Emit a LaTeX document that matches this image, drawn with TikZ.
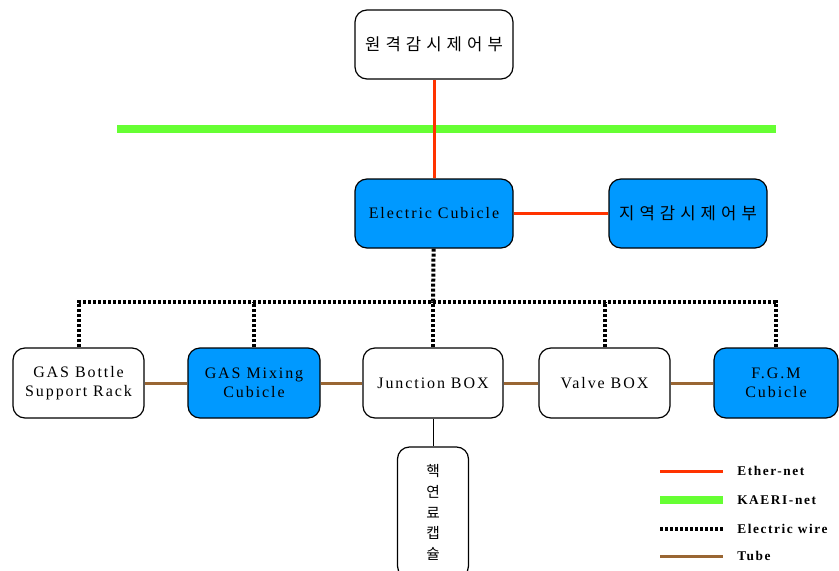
\documentclass[tikz,border=0pt]{standalone}
\usepackage{fontspec}
\setmainfont{Liberation Serif}[LetterSpace=12]
\newfontfamily\kr{Noto Sans CJK KR}[LetterSpace=8]
\definecolor{cubeblue}{RGB}{0,153,255}
\definecolor{etherred}{RGB}{255,51,0}
\definecolor{kaerigreen}{RGB}{102,255,51}
\definecolor{tubebrown}{RGB}{153,102,51}
\tikzset{
    box/.style={draw, line width=0.9pt, rounded corners=9pt, fill=white, align=center,
        minimum height=52.5pt, inner sep=2pt, font=\fontsize{12}{14}\selectfont},
    bluebox/.style={box, fill=cubeblue},
    ether/.style={draw=etherred, line width=2.25pt},
    kaeri/.style={draw=kaerigreen, line width=6pt},
    wire/.style={draw=black, line width=3pt, dash pattern=on 2.25pt off 1.5pt},
    tube/.style={draw=tubebrown, line width=2.25pt},
    legend/.style={right, inner sep=0pt, font=\bfseries\fontsize{10}{12}\selectfont}
}
\begin{document}
\begin{tikzpicture}[x=0.75pt,y=-0.75pt]
    \useasboundingbox (0,0) rectangle (839,571);

    % control level
    \node[box, minimum width=118.5pt, minimum height=51.75pt] (remote) at (434,44.5) {\kr\fontsize{12.5}{14}\selectfont 원 격 감 시 제 어 부};
    \node[bluebox, minimum width=118.5pt, minimum height=51.75pt] (elec) at (434,213.5) {Electric Cubicle};
    \node[bluebox, minimum width=118.5pt, minimum height=51.75pt] (local) at (688,213.5) {\kr\fontsize{12.5}{14}\selectfont 지 역 감 시 제 어 부};

    \draw[kaeri] (117,129) coordinate (netW) -- (776,129) coordinate (netE);
    \draw[ether] (remote) -- (elec);
    \draw[ether] (elec) -- (local);

    % field level
    \node[box, minimum width=98.25pt] (bottle) at (78.5,383) {GAS Bottle\\Support Rack};
    \node[bluebox, minimum width=99pt] (mixing) at (254,383) {GAS Mixing\\Cubicle};
    \node[box, minimum width=105pt] (junction) at (433,383) {Junction BOX};
    \node[box, minimum width=98.25pt] (valve) at (604.5,383) {Valve BOX};
    \node[bluebox, minimum width=93pt] (fgm) at (776,383) {F.G.M\\Cubicle};

    % tubes
    \draw[tube] (bottle) -- (mixing);
    \draw[tube] (mixing) -- (junction);
    \draw[tube] (junction) -- (valve);
    \draw[tube] (valve) -- (fgm);

    % electric wires
    \coordinate (bus) at (433,302);
    \draw[wire] (elec) -- (bus);
    \draw[wire] (bottle.north) |- (bus) -| (fgm.north);
    \foreach \n in {mixing,junction,valve}
        \draw[wire] (\n.north) -- (\n.north |- bus);

    % capsule
    \node[box, minimum width=53.25pt, minimum height=98.25pt,
        font=\kr\fontsize{11}{15.5}\selectfont] (capsule) at (433,512.5) {핵\\연\\료\\캡\\슐};
    \draw[line width=0.75pt] (junction) -- (capsule);

    % legend
    \foreach \y/\s/\t in {471/ether/Ether-net, 500/kaeri/KAERI-net, 529/wire/Electric wire, 556/tube/Tube} {
        \coordinate (key\y) at (660,\y);
        \node[legend] (lab\y) at (737,\y) {\t};
        \draw[\s] (key\y) -- ++(63,0);
    }
\end{tikzpicture}
\end{document}
